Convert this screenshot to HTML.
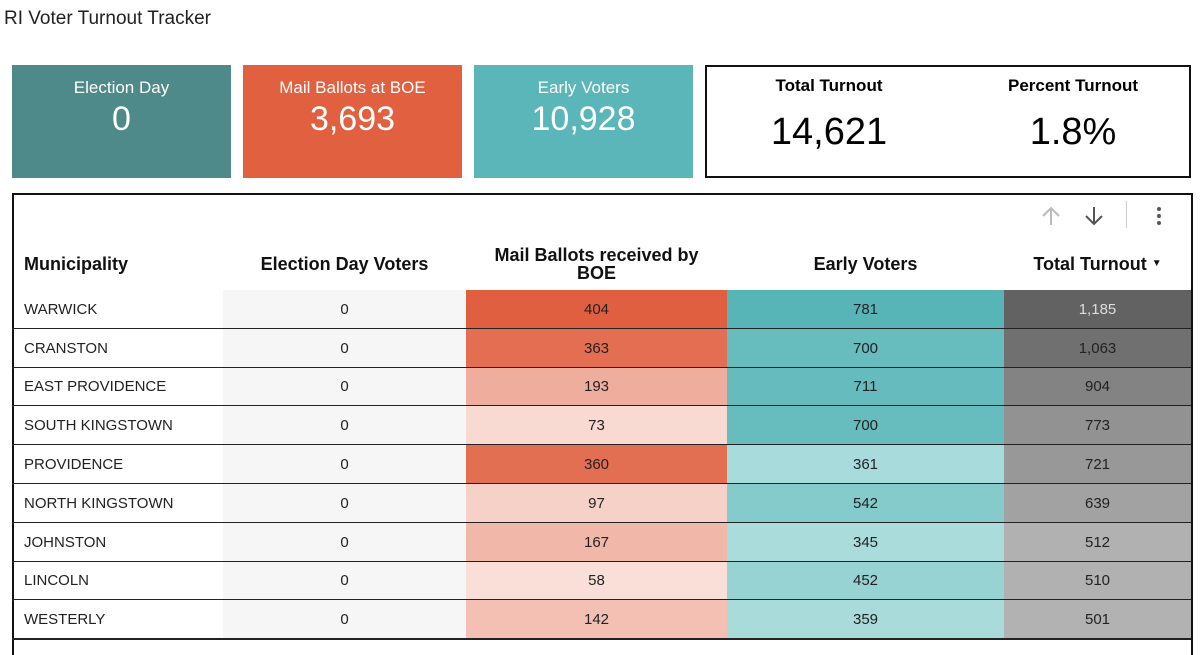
<!DOCTYPE html>
<html><head><meta charset="utf-8">
<style>
body{margin:0;width:1200px;height:641px;overflow:hidden;background:#fff;font-family:"Liberation Sans",sans-serif;position:relative}
.abs{position:absolute}
.card{position:absolute;top:65px;height:113px;width:219px;color:#fff;text-align:center}
.card .l{font-size:17px;margin-top:13px}
.card .v{font-size:34px;margin-top:2px}
.hdr{position:absolute;top:237px;height:53px;font-weight:bold;font-size:17px;display:flex;align-items:center;justify-content:center;text-align:center;line-height:18px;color:#111;font-family:"Liberation Sans Narrow","Liberation Sans",sans-serif;font-size:18px}
.cell{position:absolute;font-size:15px;display:flex;align-items:center;justify-content:center;color:#222}
.line{position:absolute;left:12px;width:1179px;height:2px;background:#222}
</style></head><body>
<div class="abs" style="left:4px;top:8px;font-size:19px;color:#222">RI Voter Turnout Tracker</div>
<div class="card" style="left:12px;background:#4e8a8a"><div class="l">Election Day</div><div class="v">0</div></div>
<div class="card" style="left:243px;background:#e0603f"><div class="l">Mail Ballots at BOE</div><div class="v">3,693</div></div>
<div class="card" style="left:474px;background:#5ab6b9"><div class="l">Early Voters</div><div class="v">10,928</div></div>
<div class="abs" style="left:705px;top:65px;width:482px;height:109px;border:2px solid #111">
 <div class="abs" style="left:0;width:244px;top:9px;text-align:center;font-weight:bold;font-size:17px">Total Turnout</div>
 <div class="abs" style="left:0;width:244px;top:44px;text-align:center;font-size:38px">14,621</div>
 <div class="abs" style="left:244px;width:244px;top:9px;text-align:center;font-weight:bold;font-size:17px">Percent Turnout</div>
 <div class="abs" style="left:244px;width:244px;top:44px;text-align:center;font-size:38px">1.8%</div>
</div>
<div class="abs" style="left:12px;top:193px;width:1177px;height:460px;border:2px solid #111;border-bottom:none"></div>
<svg class="abs" style="left:1040px;top:205px" width="22" height="22" viewBox="0 0 22 22"><path d="M11 3V20M3 11L11 3L19 11" stroke="#bbb" stroke-width="2" fill="none"/></svg>
<svg class="abs" style="left:1083px;top:205px" width="22" height="22" viewBox="0 0 22 22"><path d="M11 2V19M3 11L11 19L19 11" stroke="#555" stroke-width="2" fill="none"/></svg>
<div class="abs" style="left:1126px;top:201px;width:1px;height:27px;background:#ccc"></div>
<svg class="abs" style="left:1154px;top:206px" width="10" height="20"><circle cx="5" cy="3" r="2" fill="#555"/><circle cx="5" cy="10" r="2" fill="#555"/><circle cx="5" cy="17" r="2" fill="#555"/></svg>
<div class="abs" style="left:14px;top:237px;width:1175px;height:53px;background:#fff"></div>
<div class="hdr" style="left:24px;width:200px;justify-content:flex-start">Municipality</div>
<div class="hdr" style="left:223px;width:243px">Election Day Voters</div>
<div class="hdr" style="left:466px;width:261px">Mail Ballots received by<br>BOE</div>
<div class="hdr" style="left:727px;width:277px">Early Voters</div>
<div class="hdr" style="left:1004px;width:187px">Total Turnout&nbsp;<span style="font-size:10px">▼</span></div>
<div id="rows"></div>
<script>
const towns=["WARWICK","CRANSTON","EAST PROVIDENCE","SOUTH KINGSTOWN","PROVIDENCE","NORTH KINGSTOWN","JOHNSTON","LINCOLN","WESTERLY"];
const electionDay=[0,0,0,0,0,0,0,0,0];
const mail=[404,363,193,73,360,97,167,58,142];
const early=[781,700,711,700,361,542,345,452,359];
const total=[1185,1063,904,773,721,639,512,510,501];
const root=document.getElementById('rows');
function mix(a,b,t){return 'rgb('+a.map((v,i)=>Math.round(v+(b[i]-v)*t)).join(',')+')';}
function fmt(n){return n.toLocaleString('en-US');}
const cols=[{x:12,w:211},{x:223,w:243},{x:466,w:261},{x:727,w:277},{x:1004,w:187}];
const rowTop=290,rowH=38.8;
const mMax=Math.max(...mail),eMax=Math.max(...early),tMax=Math.max(...total),tMin=400;
towns.forEach((t,i)=>{
 const y=rowTop+i*rowH;
 const vals=[t,fmt(electionDay[i]),fmt(mail[i]),fmt(early[i]),fmt(total[i])];
 const mt=mail[i]/mMax, et=early[i]/eMax, tt=(total[i]-tMin)/(tMax-tMin);
 const bgs=['#fff','#f5f6f5',mix([250,230,224],[224,95,64],Math.min(1,Math.max(0,(mt-0.1)/0.9))),mix([170,220,220],[88,181,183],Math.min(1,Math.max(0,(et-0.45)/0.55))),mix([190,190,190],[98,98,98],Math.min(1,Math.max(0,tt)))];
 vals.forEach((v,c)=>{
  const d=document.createElement('div');
  d.className='cell';
  
  
  d.style.left=(cols[c].x+(c==0?2:0))+'px';d.style.width=(cols[c].w-(c==0?2:0))+'px';d.style.top=y+'px';d.style.height=rowH+'px';
  d.style.background=bgs[c];
  if(c==0){d.style.justifyContent='flex-start';d.style.paddingLeft='10px';d.style.boxSizing='border-box';}
  if(c==4&&i<1){d.style.color='#ddd';}
  d.textContent=v;root.appendChild(d);
 });
 const l=document.createElement('div');
 l.className='line';
 
 
 l.style.top=(y+rowH-1)+'px';root.appendChild(l);
});
</script>
</body></html>
